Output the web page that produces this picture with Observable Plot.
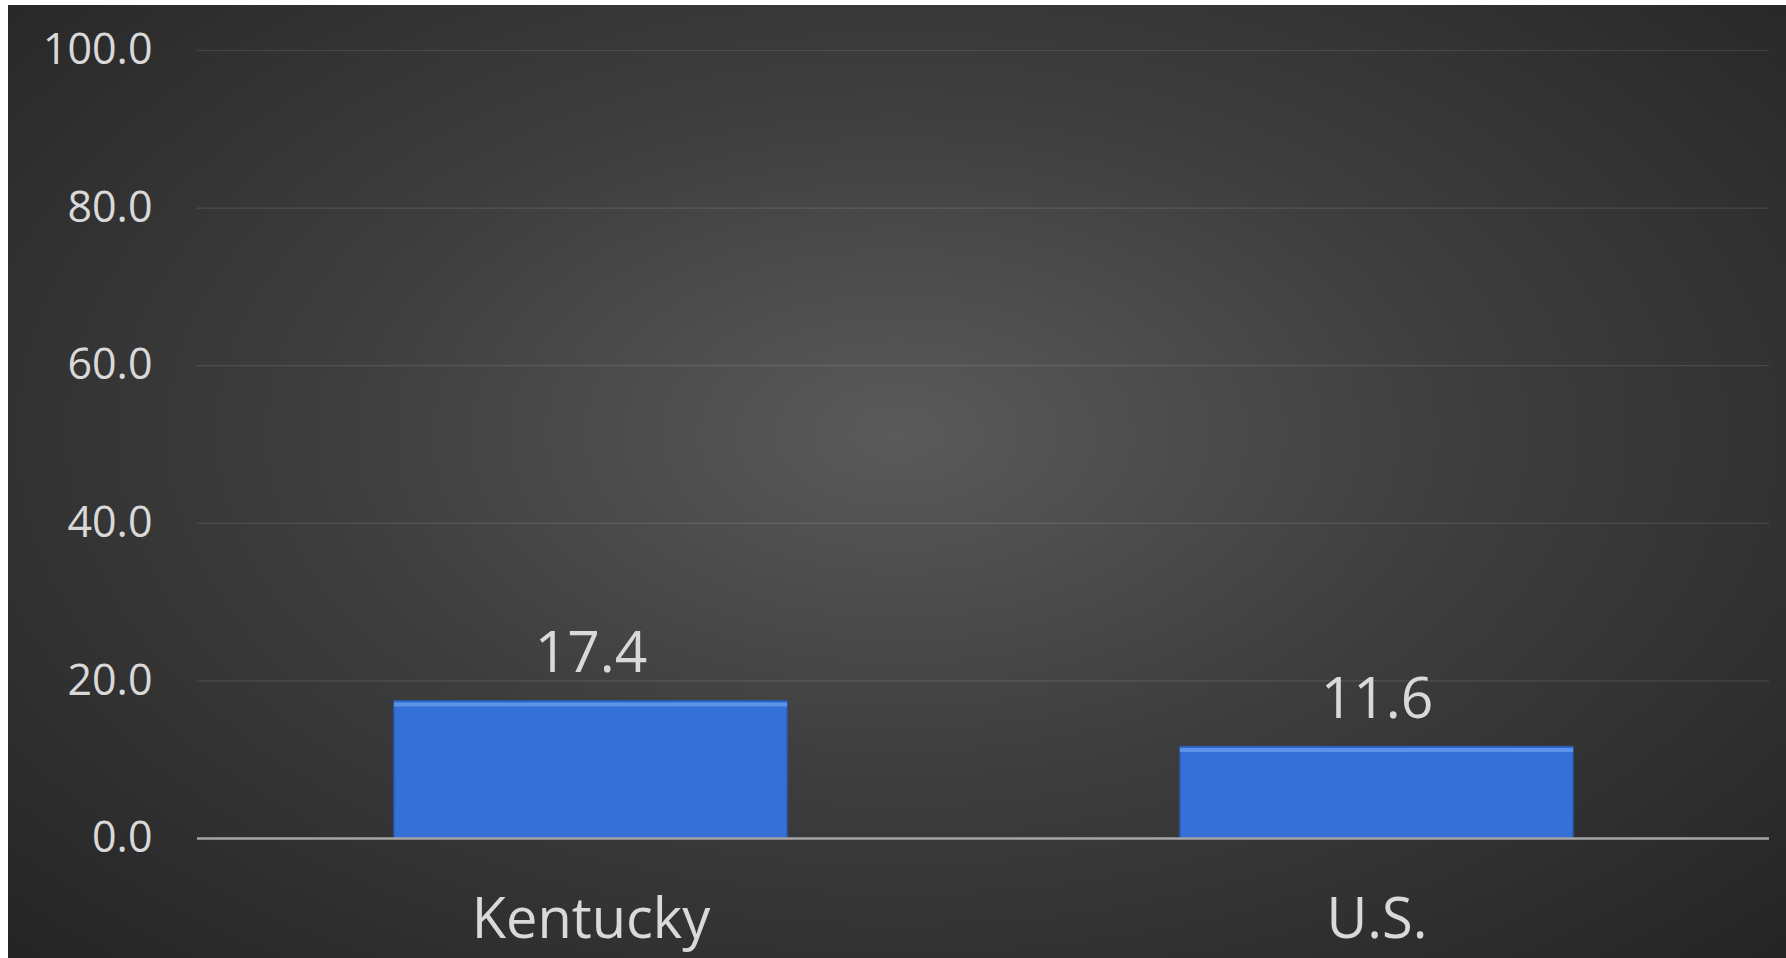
<!DOCTYPE html>
<html>
<head>
<meta charset="utf-8">
<script src="https://cdn.jsdelivr.net/npm/d3@7"></script>
<script src="https://cdn.jsdelivr.net/npm/@observablehq/plot@0.6"></script>
<style>
  html, body { margin: 0; padding: 0; background: #ffffff; overflow: hidden; }
  #chart {
    position: absolute; left: 8px; top: 5px; width: 1778px; height: 953px;
    background: radial-gradient(ellipse farthest-corner at 50% 45%, #5a5a5a 0%, #3e3e3e 45%, #242424 100%);
  }
  #chart svg { display: block; }
</style>
</head>
<body>
<div id="chart"></div>
<script>
const categories = ["Kentucky", "U.S."];
const values = [17.4, 11.6];
const yTicks = [0, 20, 40, 60, 80, 100];

const data = categories.map((c, i) => ({category: c, value: values[i]}));
const fmt = d3.format(".1f");
const font = "'Open Sans', 'Noto Sans', sans-serif";

const chart = Plot.plot({
  width: 1778,
  height: 953,
  marginLeft: 189,
  marginRight: 17,
  marginTop: 45,
  marginBottom: 120,
  style: {background: "transparent", color: "#d9d9d9", fontFamily: font, overflow: "visible"},
  x: {domain: categories, paddingInner: 0.5, paddingOuter: 0.25, label: null},
  y: {domain: [0, 100], label: null},
  marks: [
    Plot.gridY(yTicks, {stroke: "#ffffff", strokeOpacity: 0.11, strokeWidth: 1.2}),
    Plot.axisY(yTicks, {tickSize: 0, tickPadding: 45, tickFormat: fmt, fontSize: 43, fill: "#d9d9d9", label: null}),
    Plot.axisX({tickSize: 0, tickPadding: 60, fontSize: 56, fill: "#d9d9d9", label: null}),
    Plot.barY(data, {x: "category", y: "value", fill: "#3470d6", stroke: "#2a5db8", strokeWidth: 1.5}),
    Plot.tickY(data, {x: "category", y: "value", stroke: "#5b93e9", strokeWidth: 4, dy: 3}),
    Plot.ruleY([0], {stroke: "#a6a6a6", strokeWidth: 2.5}),
    Plot.text(data, {x: "category", y: "value", text: d => fmt(d.value), lineAnchor: "bottom", dy: -29, fontSize: 57, fill: "#d9d9d9"})
  ]
});
document.getElementById("chart").appendChild(chart);
</script>
</body>
</html>
